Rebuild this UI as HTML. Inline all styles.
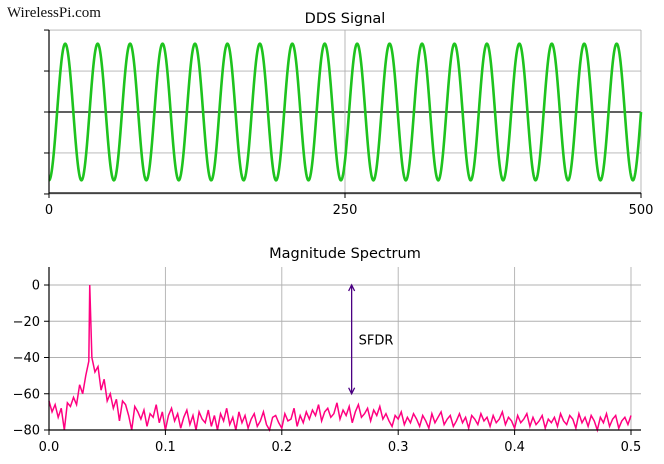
<!DOCTYPE html>
<html><head><meta charset="utf-8"><style>
body{margin:0;background:#fff;width:664px;height:464px;overflow:hidden}
svg{display:block;font-family:"DejaVu Sans","Liberation Sans",sans-serif}
</style></head><body>
<svg id="c" width="664" height="464">
<text x="7" y="17" font-family="'Liberation Serif',serif" font-size="15" fill="#111">WirelessPi.com</text>
<text x="345" y="23" text-anchor="middle" font-size="14.5">DDS Signal</text>
<text x="345" y="258" text-anchor="middle" font-size="14.5">Magnitude Spectrum</text>
<g id="top"></g><g id="bot"></g>
</svg>
<script>
// Top chart data
const ddsFreq = 0.0365;
const ddsSamples = 500;
const topXTicks = [0, 250, 500];
const topYTicks = [-1.2, -0.6, 0, 0.6, 1.2];
// Bottom chart data
const specXTicks = [0.0, 0.1, 0.2, 0.3, 0.4, 0.5];
const specXLabels = ["0.0", "0.1", "0.2", "0.3", "0.4", "0.5"];
const specYTicks = [0, -20, -40, -60, -80];
const specVals = [
-64,-70,-66,-73,-68,-80,-65,-67,-62,-66,-55,-60,-50,-42,-40,-48,-45,-58,-52,-64,
-60,-68,-63,-75,-64,-66,-72,-80,-67,-70,-74,-69,-78,-71,-73,-66,-76,-70,-80,-72,
-68,-75,-71,-79,-73,-69,-77,-72,-80,-70,-74,-76,-69,-78,-72,-80,-71,-75,-68,-77,
-73,-80,-70,-76,-72,-79,-74,-71,-78,-75,-70,-77,-80,-73,-72,-76,-79,-71,-75,-74,
-68,-78,-72,-76,-70,-74,-69,-72,-66,-75,-70,-68,-73,-71,-65,-74,-69,-72,-67,-76,
-70,-66,-73,-71,-68,-75,-69,-72,-67,-74,-71,-75,-78,-72,-74,-70,-77,-73,-76,-71,
-74,-78,-72,-75,-79,-71,-76,-73,-70,-77,-74,-72,-78,-75,-71,-76,-73,-79,-72,-74,
-77,-71,-75,-73,-78,-72,-76,-74,-70,-77,-73,-75,-79,-72,-76,-74,-71,-78,-73,-77,
-75,-72,-79,-74,-76,-73,-78,-71,-75,-77,-72,-74,-79,-71,-76,-73,-78,-72,-75,-80,
-73,-76,-71,-78,-74,-72,-79,-75,-73,-77,-72];
const specStep = 0.5 / (specVals.length - 1);
const peakFreq = 0.035, peakVal = 0;
const sfdrFreq = 0.26, sfdrTop = 0, sfdrBottom = -60;

const NS="http://www.w3.org/2000/svg";
function mk(p,t,a){const e=document.createElementNS(NS,t);for(const k in a)e.setAttribute(k,a[k]);p.appendChild(e);return e;}
// Top
const T=document.getElementById('top');
const tx=v=>49+(v/500)*592, ty=v=>112-v*68.3;
topYTicks.forEach(v=>{const l=mk(T,'line',{x1:49,x2:641,y1:ty(v),y2:ty(v),stroke:v===0?'#000':'#b0b0b0','stroke-width':v===0?1.3:0.9});


const k=mk(T,'line',{x1:44,x2:49,y1:ty(v),y2:ty(v),stroke:'#000'});

});
topXTicks.forEach(v=>{const l=mk(T,'line',{x1:tx(v),x2:tx(v),y1:30,y2:193,stroke:'#b0b0b0','stroke-width':0.9});


mk(T,'line',{x1:tx(v),x2:tx(v),y1:193,y2:198,stroke:'#000'});
const t=mk(T,'text',{x:tx(v),y:214,'text-anchor':'middle','font-size':13});t.textContent=v;

});
let d='';for(let n=0;n<=ddsSamples*4;n++){const s=n/4;d+=(n?'L':'M')+tx(s).toFixed(2)+','+ty(-Math.cos(2*Math.PI*ddsFreq*s)).toFixed(2);}
const sig=mk(T,'path',{d:d,fill:'none',stroke:'#1ec31e','stroke-width':2.6});


const ax=mk(T,'path',{d:'M49,30V193H641',fill:'none',stroke:'#000','stroke-width':1.2});


// Bottom
const B=document.getElementById('bot');
const bx=v=>49+v*1164, by=v=>285-v*1.8125;
specYTicks.forEach(v=>{const l=mk(B,'line',{x1:49,x2:641,y1:by(v),y2:by(v),stroke:'#b0b0b0','stroke-width':0.9});


mk(B,'line',{x1:44,x2:49,y1:by(v),y2:by(v),stroke:'#000'});
const t=mk(B,'text',{x:40,y:by(v)+4.5,'text-anchor':'end','font-size':13});t.textContent=v===0?'0':'\u2212'+Math.abs(v);

});
specXTicks.forEach((v,i)=>{const l=mk(B,'line',{x1:bx(v),x2:bx(v),y1:267,y2:430,stroke:'#b0b0b0','stroke-width':0.9});


mk(B,'line',{x1:bx(v),x2:bx(v),y1:430,y2:435,stroke:'#000'});
const t=mk(B,'text',{x:bx(v),y:451,'text-anchor':'middle','font-size':13});t.textContent=specXLabels[i];

});
const pts=specVals.map((v,i)=>[i*specStep,v]);pts.push([peakFreq,peakVal]);pts.sort((a,b)=>a[0]-b[0]);
let p='';pts.forEach((q,i)=>{p+=(i?'L':'M')+bx(q[0]).toFixed(2)+','+Math.min(430,by(q[1])).toFixed(2);});
const sp=mk(B,'path',{d:p,fill:'none',stroke:'#ff0080','stroke-width':1.5});


const ar=mk(B,'path',{d:`M${bx(sfdrFreq)},${by(sfdrTop)}V${by(sfdrBottom)}M${bx(sfdrFreq)-3},${by(sfdrTop)+6}L${bx(sfdrFreq)},${by(sfdrTop)}L${bx(sfdrFreq)+3},${by(sfdrTop)+6}M${bx(sfdrFreq)-3},${by(sfdrBottom)-6}L${bx(sfdrFreq)},${by(sfdrBottom)}L${bx(sfdrFreq)+3},${by(sfdrBottom)-6}`,fill:'none',stroke:'#4b0082','stroke-width':1.3});


const st=mk(B,'text',{x:bx(sfdrFreq)+7,y:by((sfdrTop+sfdrBottom)/2)+5,'font-size':13});st.textContent='SFDR';


const ax2=mk(B,'path',{d:'M49,267V430H641',fill:'none',stroke:'#000','stroke-width':1.2});


</script>
</body></html>
